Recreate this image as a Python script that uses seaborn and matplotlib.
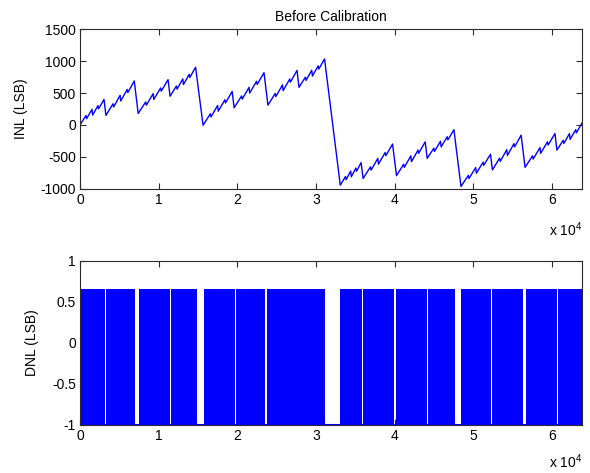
import numpy as np
import pandas as pd
import matplotlib
matplotlib.use("Agg")
import matplotlib.pyplot as plt
import seaborn as sns

# ---------------- data ----------------
# INL vertices: code index and INL value (LSB)
inl_code = [
    0, 762, 842, 1525, 1605, 2288, 2368, 3050,
    3300, 4200, 4280, 5100, 5180, 6000, 6080, 6900,
    7400, 8350, 8430, 9300, 9380, 10250, 10330, 11200,
    11450, 12262, 12342, 13075, 13155, 13888, 13968, 14700,
    15650, 16575, 16655, 17500, 17580, 18425, 18505, 19350,
    19600, 20550, 20630, 21500, 21580, 22450, 22530, 23400,
    23900, 24825, 24905, 25750, 25830, 26675, 26755, 27600,
    27850, 28662, 28742, 29475, 29555, 30288, 30368, 31100,
    33100, 33762, 33842, 34425, 34505, 35088, 35168, 35750,
    36000, 36938, 37018, 37875, 37955, 38812, 38892, 39750,
    40250, 41162, 41242, 42075, 42155, 42988, 43068, 43900,
    44150, 45000, 45080, 45850, 45930, 46700, 46780, 47550,
    48450, 49388, 49468, 50325, 50405, 51262, 51342, 52200,
    52450, 53362, 53442, 54275, 54355, 55188, 55268, 56100,
    56600, 57550, 57630, 58500, 58580, 59450, 59530, 60400,
    60650, 61448, 61528, 62245, 62325, 63042, 63122, 63840,
]
inl_lsb = [
    0, 148, 98, 245, 155, 303, 253, 400,
    150, 332, 282, 465, 375, 557, 507, 690,
    180, 360, 310, 490, 400, 580, 530, 710,
    450, 611, 561, 723, 633, 794, 744, 905,
    -5, 175, 125, 305, 215, 395, 345, 525,
    270, 455, 405, 590, 500, 685, 635, 820,
    310, 494, 444, 628, 538, 721, 671, 855,
    590, 749, 699, 857, 767, 926, 876, 1035,
    -945, -809, -859, -723, -813, -676, -726, -590,
    -840, -658, -708, -525, -615, -432, -482, -300,
    -795, -615, -665, -485, -575, -395, -445, -265,
    -525, -365, -415, -255, -345, -185, -235, -75,
    -965, -791, -841, -668, -758, -584, -634, -460,
    -705, -521, -571, -388, -478, -294, -344, -160,
    -665, -485, -535, -355, -445, -265, -315, -135,
    -395, -241, -291, -137, -227, -74, -124, 30,
]

# DNL: code ranges where DNL toggles between -1 and ~0.66 (solid band);
# between them the codes are missing (DNL = -1)
dnl_band_start = [0, 3300, 7450, 11550, 15760, 19830, 23800, 33100,
                  36050, 40150, 44250, 48400, 52450, 56700, 60750]
dnl_band_end = [3150, 6950, 11400, 14830, 19650, 23500, 31200, 35900,
                39900, 44100, 47700, 52300, 56300, 60600, 63840]
dnl_band_top = [0.66, 0.66, 0.66, 0.66, 0.66, 0.66, 0.66, 0.66,
                0.66, 0.66, 0.66, 0.66, 0.66, 0.66, 0.66]
dnl_floor = [-1, -1]
dnl_floor_code = [0, 63840]

x_ticks = [0, 10000, 20000, 30000, 40000, 50000, 60000]
x_ticklabels = ["0", "1", "2", "3", "4", "5", "6"]
inl_yticks = [-1000, -500, 0, 500, 1000, 1500]
dnl_yticks = [-1, -0.5, 0, 0.5, 1]
dnl_yticklabels = ["-1", "-0.5", "0", "0.5", "1"]

# ---------------- style ----------------
sns.set_theme(style="white")
plt.rcParams["font.family"] = ["Liberation Sans", "DejaVu Sans"]
plt.rcParams["mathtext.default"] = "regular"
plt.rcParams["font.size"] = 10

BLUE = "#0000ff"
AXC = "#2b2b2b"

fig = plt.figure(figsize=(5.90, 4.73), dpi=100)
fig.patch.set_facecolor("white")
ax1 = fig.add_axes([80 / 590, 1 - 188.7 / 473, 502 / 590, 159.4 / 473])
ax2 = fig.add_axes([80 / 590, 1 - 425 / 473, 502 / 590, 164.3 / 473])

inl_df = pd.DataFrame({"code": inl_code, "inl": inl_lsb})
sns.lineplot(data=inl_df, x="code", y="inl", ax=ax1, color=BLUE,
             linewidth=1.0, sort=False, estimator=None)

for s, e, t in zip(dnl_band_start, dnl_band_end, dnl_band_top):
    ax2.fill_between([s, e], [-1, -1], [t, t], color=BLUE, linewidth=0)
sns.lineplot(x=dnl_floor_code, y=dnl_floor, ax=ax2, color=BLUE,
             linewidth=1.5, estimator=None)

for ax, off in ((ax1, -0.26), (ax2, -0.225)):
    ax.set_xlim(0, 63840)
    ax.set_xticks(x_ticks)
    ax.set_xticklabels(x_ticklabels)
    ax.set_xlabel("")
    ax.set_facecolor("white")
    for sp in ax.spines.values():
        sp.set_visible(True)
        sp.set_color(AXC)
        sp.set_linewidth(0.8)
    ax.tick_params(direction="in", length=4, width=0.8, colors=AXC,
                   top=True, right=True, bottom=True, left=True,
                   labelsize=10, labelcolor="black", pad=3)
    ax.text(1.0, off, r"x 10$^{4}$", transform=ax.transAxes,
            ha="right", va="center", fontsize=10, color="black")

ax1.set_ylim(-1000, 1500)
ax1.set_yticks(inl_yticks)
ax1.set_yticklabels([str(v) for v in inl_yticks])
ax1.set_ylabel("INL (LSB)", fontsize=10, color="black", labelpad=9)
ax1.set_title("Before Calibration", fontsize=10, color="black", pad=6)

ax2.set_ylim(-1, 1)
ax2.set_yticks(dnl_yticks)
ax2.set_yticklabels(dnl_yticklabels)
ax2.set_ylabel("DNL (LSB)", fontsize=10, color="black", labelpad=9)

fig.savefig("out.png", dpi=100, facecolor="white")
